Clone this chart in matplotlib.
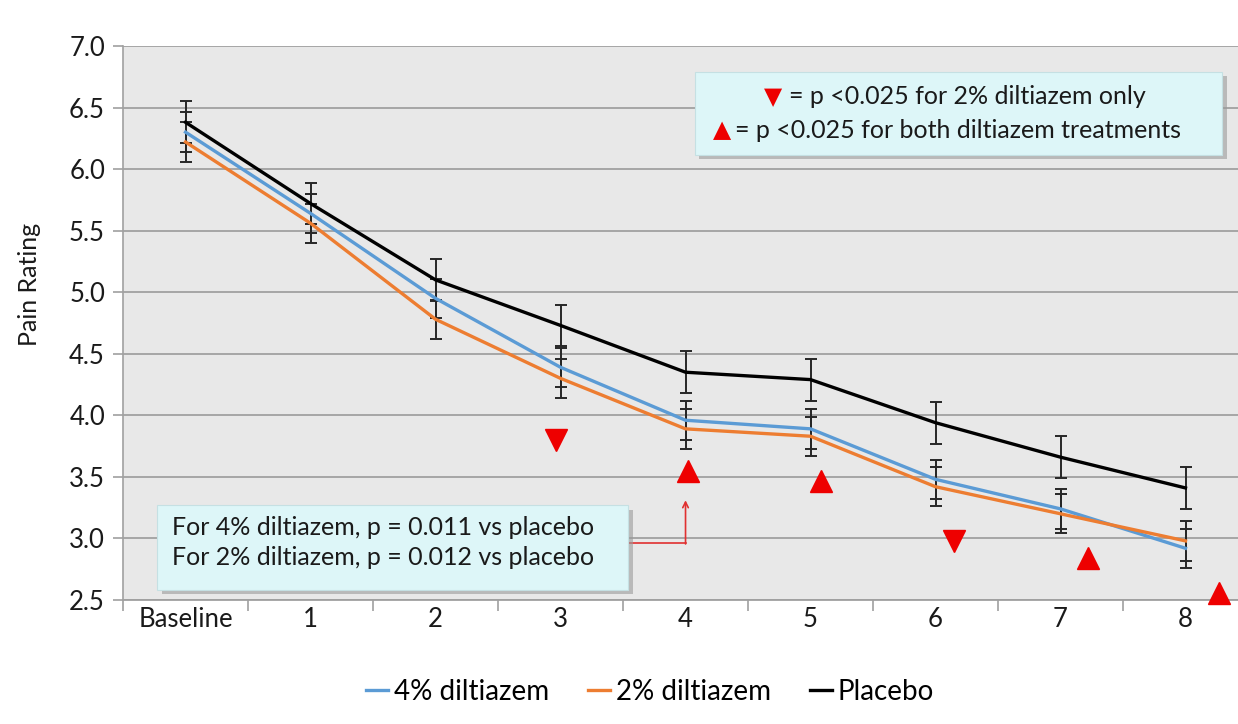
import numpy as np
import matplotlib
matplotlib.use("Agg")
import matplotlib.pyplot as plt
from matplotlib.patches import Rectangle

plt.rcParams['font.family'] = ['Lato', 'DejaVu Sans']

# data
categories = ["Baseline", "1", "2", "3", "4", "5", "6", "7", "8"]
diltiazem_4 = [6.30, 5.64, 4.95, 4.39, 3.96, 3.89, 3.48, 3.24, 2.92]
diltiazem_2 = [6.22, 5.56, 4.78, 4.30, 3.89, 3.83, 3.42, 3.20, 2.98]
placebo = [6.38, 5.72, 5.10, 4.73, 4.35, 4.29, 3.94, 3.66, 3.41]
err_4 = [0.16, 0.16, 0.16, 0.16, 0.16, 0.16, 0.16, 0.16, 0.16]
err_2 = [0.16, 0.16, 0.16, 0.16, 0.16, 0.16, 0.16, 0.16, 0.16]
err_p = [0.17, 0.17, 0.17, 0.17, 0.17, 0.17, 0.17, 0.17, 0.17]

# significance markers (x in category units, y in rating units)
down_x = [2.96, 6.15]
down_y = [3.80, 2.98]
up_x = [4.02, 5.08, 7.22, 8.27]
up_y = [3.55, 3.47, 2.84, 2.56]

fig = plt.figure(figsize=(12.38, 7.24), dpi=100)
ax = fig.add_axes([0.0994, 0.1713, 0.9006, 0.7652])
ax.set_facecolor("#e8e8e8")

x = np.arange(len(categories))
series = [
    ("4% diltiazem", diltiazem_4, err_4, "#5b9bd5"),
    ("2% diltiazem", diltiazem_2, err_2, "#ed7d31"),
    ("Placebo", placebo, err_p, "black"),
]
for name, vals, err, col in series:
    ax.errorbar(x, vals, yerr=err, fmt="none", ecolor="#262626",
                elinewidth=1.4, capsize=4, capthick=1.4, zorder=3)
for name, vals, err, col in series:
    ax.plot(x, vals, color=col, lw=2.4, label=name, zorder=4)

ax.plot(down_x, down_y, "v", color="#ee0000", ms=16, ls="none", zorder=5)
ax.plot(up_x, up_y, "^", color="#ee0000", ms=16, ls="none", zorder=5,
        clip_on=False)

ax.set_ylim(2.5, 7.0)
ax.set_xlim(-0.5, 8.42)
ax.set_yticks(np.arange(2.5, 7.01, 0.5))
ax.set_yticklabels([f"{v:.1f}" for v in np.arange(2.5, 7.01, 0.5)],
                   fontsize=18.5, color="#1a1a1a")
ax.yaxis.grid(True, color="#a0a0a0", lw=1.3)
ax.set_axisbelow(True)
ax.tick_params(axis="y", length=7, width=1.2, color="#a0a0a0", pad=6)

ax.set_xticks(x)
ax.set_xticklabels(categories, fontsize=18.5, color="#1a1a1a")
ax.set_xticks(np.arange(-0.5, 8.5, 1), minor=True)
ax.tick_params(axis="x", which="major", length=0, pad=5)
ax.tick_params(axis="x", which="minor", length=8, width=1.2, color="#a0a0a0")

for s in ["top", "right"]:
    ax.spines[s].set_visible(False)
ax.spines["left"].set_color("#a0a0a0")
ax.spines["left"].set_linewidth(1.2)
ax.spines["bottom"].set_color("#a0a0a0")
ax.spines["bottom"].set_linewidth(1.3)

ax.set_ylabel("Pain Rating", fontsize=18, color="#1a1a1a")
ax.yaxis.set_label_coords(-0.074, 0.57)

# note boxes
def note_box(x0, y0, w, h):
    fig.patches.append(Rectangle((x0 + 0.004, y0 - 0.006), w, h,
                                 transform=fig.transFigure, fc="#9a9a9a",
                                 ec="none", alpha=0.6, zorder=6))
    fig.patches.append(Rectangle((x0, y0), w, h, transform=fig.transFigure,
                                 fc="#ddf6f8", ec="#c5e0e3", lw=0.8, zorder=7))

note_box(0.561, 0.786, 0.426, 0.115)
note_box(0.127, 0.185, 0.380, 0.117)

fig.text(0.624, 0.866, "▼", color="#ee0000", fontsize=17, ha="center",
         va="center", family="DejaVu Sans", zorder=8)
fig.text(0.637, 0.867, "= p <0.025 for 2% diltiazem only", fontsize=18,
         ha="left", va="center", color="#1a1a1a", zorder=8)
fig.text(0.583, 0.821, "▲", color="#ee0000", fontsize=17, ha="center",
         va="center", family="DejaVu Sans", zorder=8)
fig.text(0.594, 0.820, "= p <0.025 for both diltiazem treatments", fontsize=18,
         ha="left", va="center", color="#1a1a1a", zorder=8)

fig.text(0.139, 0.272, "For 4% diltiazem, p = 0.011 vs placebo", fontsize=18,
         ha="left", va="center", color="#1a1a1a", zorder=8)
fig.text(0.139, 0.230, "For 2% diltiazem, p = 0.012 vs placebo", fontsize=18,
         ha="left", va="center", color="#1a1a1a", zorder=8)

# red connector arrow from the lower box to week 4
ax.plot([3.53, 4.0], [2.96, 2.96], color="#e03030", lw=1.2, zorder=6)
ax.annotate("", xy=(4.0, 3.31), xytext=(4.0, 2.955),
            arrowprops=dict(arrowstyle="->", color="#e03030", lw=1.2,
                            shrinkA=0, shrinkB=0), zorder=6)

fig.legend(loc="center", bbox_to_anchor=(0.525, 0.044), ncol=3,
           frameon=False, fontsize=20, handlelength=0.8, handletextpad=0.2,
           columnspacing=1.4)

fig.savefig("out.png", dpi=100)
